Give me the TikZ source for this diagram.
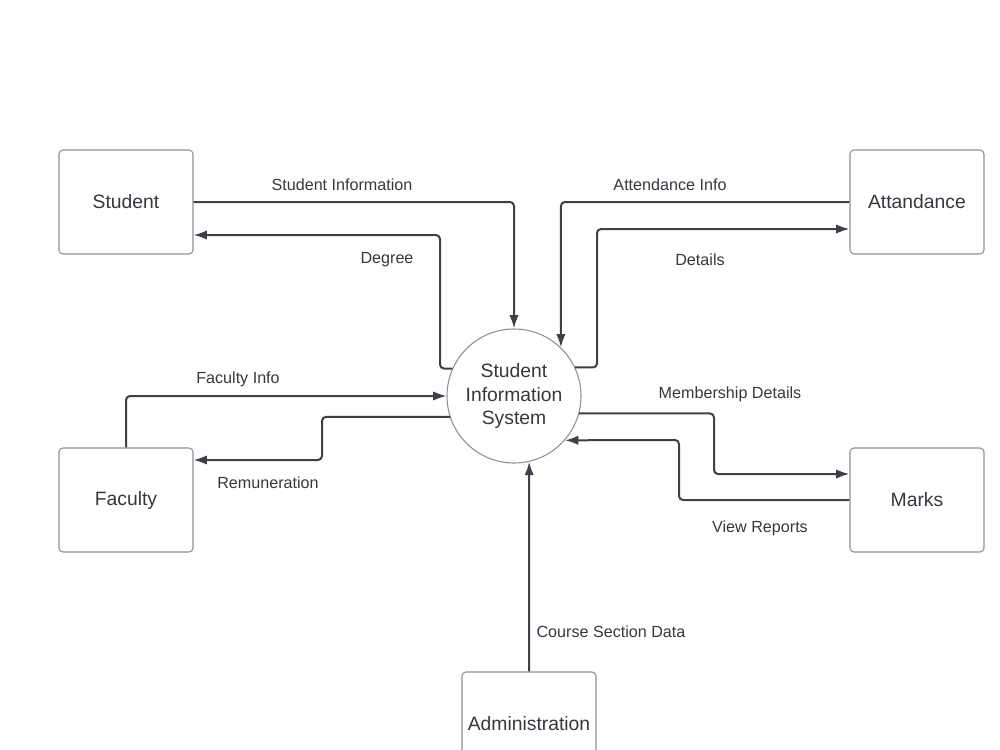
\documentclass[tikz,border=0pt]{standalone}
\usepackage{fontspec}
\setmainfont{Liberation Sans}
\usetikzlibrary{arrows.meta}
\definecolor{linec}{RGB}{60,65,73}
\definecolor{boxc}{RGB}{140,145,152}
\definecolor{txtc}{RGB}{52,57,64}
\tikzset{
  ent/.style={draw=boxc, line width=0.8pt, rounded corners=3pt, minimum width=100.5pt, minimum height=78pt, inner sep=0pt, font=\fontsize{14.5}{17.5}\selectfont, text=txtc},
  proc/.style={draw=boxc, line width=0.8pt, circle, minimum size=100.5pt, inner sep=0pt, align=center, font=\fontsize{14.5}{17.6}\selectfont, text=txtc},
  flow/.style={draw=linec, line width=1.5pt, rounded corners=3pt, -{Latex[length=10pt,width=7pt]}},
  lbl/.style={font=\fontsize{12.1}{14}\selectfont, text=txtc, inner sep=0pt}
}
\begin{document}
\begin{tikzpicture}[x=0.75pt,y=-0.75pt]
\useasboundingbox (0,0) rectangle (1000,750);
\clip (0,0) rectangle (1000,750);
\fill[white] (0,0) rectangle (1000,750);
\node[ent] (stu) at (126,202) {Student};
\node[ent] (att) at (917,202) {Attandance};
\node[ent] (fac) at (126,500) {Faculty};
\node[ent] (mrk) at (917,500) {Marks};
\node[ent] (adm) at (529,724) {Administration};
\node[proc] (sis) at (514,396) {Student\\Information\\System};
\coordinate (dg) at (440,235);
\coordinate (dt) at (597,229);
\coordinate (rm) at (322,460);
\coordinate (mb) at (714,474);
\coordinate (vr) at (679,440);
\draw[flow] (stu.east) -| (sis.north);
\draw[flow] (sis.156) -| (dg) -- (stu.east |- dg);
\draw[flow] (att.west) -| (sis.46.6);
\draw[flow] (sis.25.6) -| (dt) -- (att.west |- dt);
\draw[flow] (fac.north) |- (sis.west);
\draw[flow] (sis.198.3) -| (rm) -- (fac.east |- rm);
\draw[flow] (sis.-15.6) -| (mb) -- (mrk.west |- mb);
\draw[flow] (mrk.west) -| (vr) -- (sis.-41);
\draw[flow] (adm.north) -- (sis.-77.1);
\node[lbl] (l1) at (342,185) {Student Information};
\node[lbl] (l2) at (387,260) {Degree};
\node[lbl] (l3) at (670,185) {Attendance Info};
\node[lbl] (l4) at (700,260) {Details};
\node[lbl] (l5) at (238,379) {Faculty Info};
\node[lbl] (l6) at (268,483) {Remuneration};
\node[lbl] (l7) at (730,394) {Membership Details};
\node[lbl] (l8) at (760,528) {View Reports};
\node[lbl] (l9) at (611,632) {Course Section Data};
\end{tikzpicture}
\end{document}
